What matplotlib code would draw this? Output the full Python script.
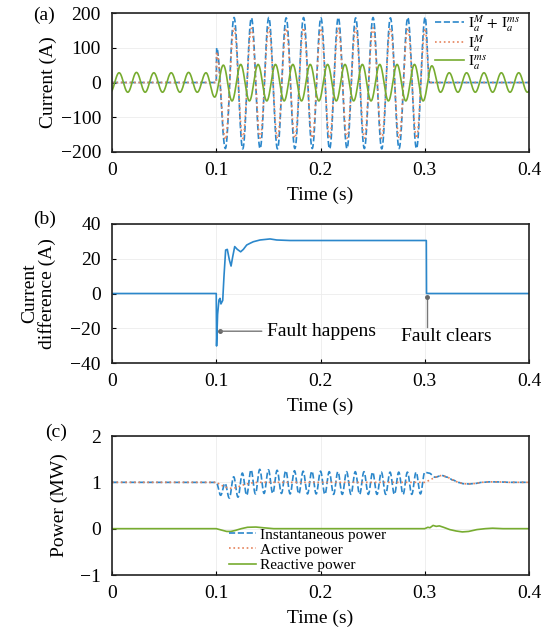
import numpy as np
import matplotlib
matplotlib.use('Agg')
import matplotlib.pyplot as plt

plt.rcParams['font.family'] = ['Liberation Serif', 'DejaVu Serif']
plt.rcParams['mathtext.fontset'] = 'stix'
plt.rcParams['axes.unicode_minus'] = True

# ---- data ----
# (a) extremes of the phase-a currents, one value per half cycle (A)
f_grid = 60.0
fault_t0 = 0.1004          # first peak after the fault
ia_sum_ext = [100, -190, 187, -191, 186, -190, 187, -191, 186, -190, 187, -190, 186,
              -191, 187, -190, 186, -190, 187, -191, 186, -190, 187, -190, 188]
ia_m_ext = [88, -164, 157, -161, 156, -160, 157, -161, 156, -160, 157, -160, 156,
            -161, 157, -160, 156, -160, 157, -161, 156, -160, 157, -160, 155]
ms_t0 = 0.0068 - 1 / 120   # first trough of the Ims current
ia_ms_ext = [-28,
             28, -28, 29, -28, 28, -28, 28, -28, 29, -28, 28,
             -42,
             50, -53, 52, -53, 52, -53, 52, -53, 52, -53, 52, -53,
             52, -53, 52, -53, 52, -53, 52, -53, 52, -53, 52, -53,
             48,
             -28, 28, -28, 28, -28, 28, -28, 28, -28, 28, -28, 28]

# (b) current difference (A)
diff_t = [0, 0.1, 0.1003, 0.1013, 0.1026, 0.1036, 0.1045, 0.1062, 0.1074, 0.109,
          0.1106, 0.1126, 0.1142, 0.1158, 0.1177, 0.1202, 0.1234, 0.126, 0.1292,
          0.1324, 0.1356, 0.142, 0.1516, 0.158, 0.1708, 0.3015, 0.3017, 0.4]
diff_v = [0, 0, -30.2, -12, -3.7, -2.8, -6, -4, 9.7, 25, 25.4, 19.3, 15.8, 21.2,
          27, 25.4, 24, 25.4, 27.9, 28.9, 29.8, 30.8, 31.4, 30.8, 30.5, 30.5, 0, 0]

# (c) power (MW)
p_t = [0, 0.1, 0.104, 0.108, 0.113, 0.118, 0.123, 0.128, 0.135, 0.14, 0.3, 0.304,
       0.31, 0.316, 0.322, 0.327, 0.332, 0.337, 0.342, 0.348, 0.355, 0.362, 0.37,
       0.38, 0.4]
p_v = [1, 1, 0.95, 0.9, 0.87, 0.88, 0.92, 0.96, 0.99, 1.0, 1.0, 1.04, 1.11, 1.15,
       1.11, 1.05, 1.0, 0.97, 0.965, 0.975, 1.0, 1.01, 1.01, 1.0, 1.0]
q_t = [0, 0.1, 0.105, 0.11, 0.114, 0.118, 0.124, 0.13, 0.138, 0.145, 0.155, 0.3,
       0.303, 0.305, 0.308, 0.311, 0.314, 0.318, 0.324, 0.33, 0.336, 0.342, 0.35,
       0.358, 0.365, 0.375, 0.4]
q_v = [0, 0, -0.03, -0.06, -0.06, -0.04, 0.0, 0.03, 0.035, 0.02, 0.0, 0.0, 0.03,
       0.02, 0.07, 0.05, 0.06, 0.03, -0.02, -0.05, -0.07, -0.06, -0.02, 0.0, 0.01,
       0.0, 0.0]
inst_t0 = 0.1042           # first trough of instantaneous power (120 Hz ripple)
inst_ext = [0.72, 0.98, 0.66, 1.12, 0.68, 1.20, 0.72, 1.27, 0.75, 1.28, 0.76, 1.27,
            0.76, 1.26, 0.76, 1.25, 0.75, 1.25, 0.75, 1.24, 0.75, 1.24, 0.75, 1.24,
            0.74, 1.23, 0.74, 1.23, 0.74, 1.23, 0.74, 1.23, 0.74, 1.23, 0.74, 1.22,
            0.74, 1.22, 0.74, 1.22, 0.74, 1.22, 0.74, 1.22, 0.74, 1.22, 0.75, 1.22]

blue = '#2b87cb'
orange = '#e5825a'
green = '#77ac30'


def wave(tk, vk, t):
    # half-cosine between successive extremes
    tk = np.asarray(tk, float)
    vk = np.asarray(vk, float)
    i = np.clip(np.searchsorted(tk, t) - 1, 0, len(tk) - 2)
    s = np.clip((t - tk[i]) / (tk[i + 1] - tk[i]), 0, 1)
    return vk[i] + (vk[i + 1] - vk[i]) * (1 - np.cos(np.pi * s)) / 2


t = np.linspace(0, 0.4, 8001)
half = 1 / (2 * f_grid)

k_fault = fault_t0 + half * np.arange(len(ia_sum_ext))
t_end = k_fault[-1] + half / 2
sum_tk = np.r_[0, 0.1, k_fault, t_end, 0.4]
ia_sum = wave(sum_tk, np.r_[0, 0, ia_sum_ext, 0, 0], t)
ia_m = wave(sum_tk, np.r_[0, 0, ia_m_ext, 0, 0], t)
ms_tk = ms_t0 + half * np.arange(len(ia_ms_ext))
ia_ms = wave(ms_tk, ia_ms_ext, t)

inst_tk = inst_t0 + np.arange(len(inst_ext)) / 240
post = np.array(p_t) >= 0.31
ins_tk = np.r_[0, 0.1, inst_tk, 0.304, np.array(p_t)[post]]
ins_vk = np.r_[1, 1, inst_ext, 1.2, np.array(p_v)[post]]
p_inst = wave(ins_tk, ins_vk, t)

fig = plt.figure(figsize=(5.53, 6.33), dpi=100)
W, H = 553, 633


def add_ax(top, bottom):
    return fig.add_axes([112 / W, 1 - bottom / H, 417 / W, (bottom - top) / H])


ax1 = add_ax(13, 152)
ax2 = add_ax(224, 363)
ax3 = add_ax(436, 575)

for ax in (ax1, ax2, ax3):
    ax.set_xlim(0, 0.4)
    ax.set_xticks([0, 0.1, 0.2, 0.3, 0.4])
    ax.set_xticklabels(['0', '0.1', '0.2', '0.3', '0.4'])
    ax.grid(True, color='#ececec', lw=0.6)
    ax.set_axisbelow(True)
    ax.tick_params(direction='in', length=3, width=0.8, labelsize=14, top=False, right=False)
    ax.tick_params(axis='x', pad=7)
    ax.tick_params(axis='y', pad=8)
    for sp in ax.spines.values():
        sp.set_linewidth(1.2)
        sp.set_color('#222222')
    ax.set_xlabel('Time (s)', fontsize=14, labelpad=6)

# (a)
ax1.plot(t, ia_sum, '--', color=blue, lw=1.2, label=r'$\mathrm{I}_a^M\,+\,\mathrm{I}_a^{ms}$')
ax1.plot(t, ia_m, ':', color=orange, lw=1.2, label=r'$\mathrm{I}_a^M$')
ax1.plot(t, ia_ms, '-', color=green, lw=1.2, label=r'$\mathrm{I}_a^{ms}$')
ax1.set_ylim(-200, 200)
ax1.set_yticks([-200, -100, 0, 100, 200])
ax1.set_ylabel('Current (A)', fontsize=14)
ax1.yaxis.set_label_coords(-0.132, 0.5)
ax1.legend(loc='upper left', bbox_to_anchor=(0.775, 1.0), frameon=False, fontsize=11,
           borderpad=0, borderaxespad=0, handlelength=1.9, handletextpad=0.25,
           labelspacing=-0.05)

# (b)
ax2.plot(diff_t, diff_v, '-', color=blue, lw=1.2)
ax2.set_ylim(-40, 40)
ax2.set_yticks([-40, -20, 0, 20, 40])
ax2.set_ylabel('Current\ndifference (A)', fontsize=14, linespacing=1.0)
ax2.yaxis.set_label_coords(-0.134, 0.5)
ax2.annotate('Fault happens', xy=(0.104, -21.7), xytext=(0.149, -21.7), fontsize=14,
             va='center', ha='left',
             arrowprops=dict(arrowstyle='-', color='#777777', lw=1.0, shrinkA=2, shrinkB=0))
ax2.plot([0.104], [-21.7], 'o', color='#666666', ms=2.5)
ax2.plot([0.302, 0.302], [-2, -19.5], '-', color='#777777', lw=1.0)
ax2.plot([0.302], [-2], 'o', color='#666666', ms=2.5)
ax2.text(0.321, -25, 'Fault clears', fontsize=14, ha='center', va='center')

# (c)
ax3.plot(t, p_inst, '--', color=blue, lw=1.2, label='Instantaneous power')
ax3.plot(p_t, p_v, ':', color=orange, lw=1.2, label='Active power')
ax3.plot(q_t, q_v, '-', color=green, lw=1.2, label='Reactive power')
ax3.set_ylim(-1, 2)
ax3.set_yticks([-1, 0, 1, 2])
ax3.set_ylabel('Power (MW)', fontsize=14)
ax3.yaxis.set_label_coords(-0.105, 0.5)
ax3.legend(loc='center left', bbox_to_anchor=(0.28, 0.18), frameon=False, fontsize=11,
           borderpad=0, borderaxespad=0, handlelength=1.8, handletextpad=0.25,
           labelspacing=0.1)

fig.text(44 / W, 1 - 15 / H, '(a)', fontsize=14, ha='center', va='center')
fig.text(45 / W, 1 - 219.5 / H, '(b)', fontsize=14, ha='center', va='center')
fig.text(56 / W, 1 - 432 / H, '(c)', fontsize=14, ha='center', va='center')

fig.savefig('out.png', dpi=100)
